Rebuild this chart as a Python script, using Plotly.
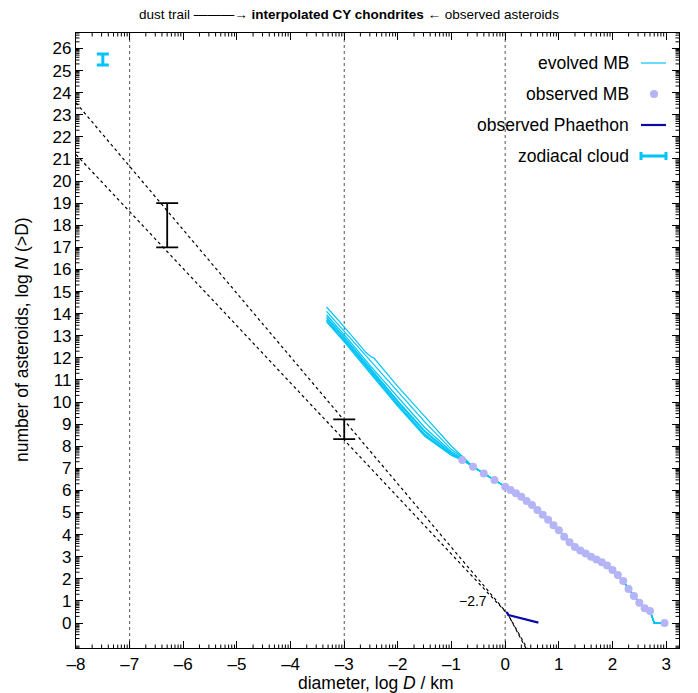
import math
import plotly.graph_objects as go

# ---------------- data ----------------
# observed main-belt cumulative distribution (log D [km], log N(>D))
mb_x = [-0.8, -0.6, -0.4, -0.2, 0.0, 0.1, 0.2, 0.3, 0.4, 0.5, 0.6, 0.7, 0.8, 0.9, 1.0,
        1.1, 1.2, 1.3, 1.4, 1.5, 1.6, 1.7, 1.8, 1.9, 2.0, 2.1, 2.2, 2.3, 2.4, 2.5, 2.6,
        2.7, 2.97]
mb_y = [7.38, 7.07, 6.77, 6.47, 6.17, 6.02, 5.87, 5.72, 5.52, 5.34, 5.12, 4.90, 4.67,
        4.42, 4.20, 3.90, 3.66, 3.44, 3.28, 3.15, 3.00, 2.88, 2.75, 2.60, 2.40, 2.17,
        1.90, 1.54, 1.22, 0.92, 0.67, 0.54, 0.0]

# evolved main-belt model runs (head parts differ, tail common)
evo_head_x = [-3.33, -3.0, -2.5, -2.0, -1.5, -1.0, -0.8]
evo_head_y = [
    [14.10, 13.20, 11.80, 10.45, 9.10, 7.85, 7.50],
    [13.95, 13.05, 11.60, 10.20, 8.85, 7.75, 7.45],
    [13.85, 12.95, 11.50, 10.05, 8.70, 7.70, 7.42],
    [13.80, 12.90, 11.45, 10.00, 8.65, 7.65, 7.40],
    [13.72, 12.82, 11.38, 9.92, 8.55, 7.62, 7.39],
    [13.68, 12.78, 11.32, 9.86, 8.50, 7.60, 7.38],
    [13.63, 12.72, 11.25, 9.80, 8.45, 7.58, 7.38],
]
evo_top_x = [-3.33, -3.2, -3.0, -2.6, -2.5, -2.45, -2.0, -1.5, -1.0, -0.8]
evo_top_y = [14.30, 13.95, 13.40, 12.25, 12.05, 12.00, 10.70, 9.35, 8.00, 7.55]
evo_tail_x = [-0.6, -0.4, -0.2, 0.0, 0.2, 0.4, 0.6, 0.8, 1.0, 1.2, 1.4, 1.6, 1.8, 2.0,
              2.2, 2.4, 2.6, 2.7, 2.78, 2.97]
evo_tail_y = [7.07, 6.77, 6.47, 6.17, 5.87, 5.52, 5.12, 4.67, 4.20, 3.66, 3.28, 3.00,
              2.75, 2.40, 1.90, 1.22, 0.67, 0.54, 0.0, 0.0]

# observed Phaethon
ph_x = [0.03, 0.06, 0.62]
ph_y = [0.50, 0.36, 0.02]

# power-law extrapolations (dotted)
ext1_x = [-8.0, 0.05, 0.42]
ext1_y = [23.54, 0.40, -1.2]
ext2_x = [-8.0, 0.05, 0.40]
ext2_y = [21.20, 0.40, -1.2]
slope_label = "\u22122.7"
slope_label_pos = (-0.6, 1.0)

# constraints with error bars
dust_x = [-6.3, -3.0]
dust_y = [18.0, 8.77]
dust_err = [1.0, 0.45]
zod_x = [-7.5]
zod_y = [25.5]
zod_err = [0.25]

vlines = [-7, -3, 0]

x_ticks = list(range(-8, 4))
y_ticks = list(range(0, 27))

# ---------------- styles ----------------
CYAN = "#00c4f8"
LAV = "#b4b4f6"
DBLUE = "#0a0aa8"
FONT = "Liberation Sans, Arial, sans-serif"

X_RANGE = [-8, 3.24]
Y_RANGE = [-1.13, 26.7]

# layout geometry (pixels)
W, H = 698, 693
L, R, T, B = 76, 679, 33, 648

fig = go.Figure()

# minor (log-like) ticks, gnuplot style, drawn as line segments
x_minor = [n + math.log10(k) for n in range(-9, 4) for k in range(2, 10)]
x_minor = [v for v in x_minor if X_RANGE[0] < v < X_RANGE[1]]
y_minor = [n + math.log10(k) for n in range(-2, 27) for k in range(2, 10)]
y_minor = [v for v in y_minor if Y_RANGE[0] < v < Y_RANGE[1]]
tick_dy = 3.5 * (Y_RANGE[1] - Y_RANGE[0]) / (B - T)
tick_dx = 3.5 * (X_RANGE[1] - X_RANGE[0]) / (R - L)
mx, my = [], []
for v in x_minor:
    mx += [v, v, None, v, v, None]
    my += [Y_RANGE[0], Y_RANGE[0] + tick_dy, None, Y_RANGE[1], Y_RANGE[1] - tick_dy, None]
for v in y_minor:
    mx += [X_RANGE[0], X_RANGE[0] + tick_dx, None, X_RANGE[1], X_RANGE[1] - tick_dx, None]
    my += [v, v, None, v, v, None]
fig.add_trace(go.Scatter(x=mx, y=my, mode="lines", line=dict(color="black", width=1),
                         showlegend=False, hoverinfo="skip"))

for xs, ys in [(ext1_x, ext1_y), (ext2_x, ext2_y)]:
    fig.add_trace(go.Scatter(x=xs, y=ys, mode="lines",
                             line=dict(color="black", width=1.2, dash="dot"),
                             showlegend=False, hoverinfo="skip"))

fig.add_trace(go.Scatter(x=evo_top_x + evo_tail_x, y=evo_top_y + evo_tail_y, mode="lines",
                         line=dict(color=CYAN, width=1.2), showlegend=False))
for hy in evo_head_y:
    fig.add_trace(go.Scatter(x=evo_head_x + evo_tail_x, y=hy + evo_tail_y, mode="lines",
                             line=dict(color=CYAN, width=1.2), showlegend=False))

fig.add_trace(go.Scatter(x=mb_x, y=mb_y, mode="markers",
                         marker=dict(color=LAV, size=8), showlegend=False))

fig.add_trace(go.Scatter(x=ph_x, y=ph_y, mode="lines",
                         line=dict(color=DBLUE, width=2.2), showlegend=False))

fig.add_trace(go.Scatter(x=dust_x, y=dust_y, mode="markers",
                         marker=dict(color="rgba(0,0,0,0)", size=1),
                         error_y=dict(type="data", array=dust_err, color="black",
                                      thickness=1.8, width=11),
                         showlegend=False))
fig.add_trace(go.Scatter(x=zod_x, y=zod_y, mode="markers",
                         marker=dict(color="rgba(0,0,0,0)", size=1),
                         error_y=dict(type="data", array=zod_err, color=CYAN,
                                      thickness=3, width=6),
                         showlegend=False))


def px(xp):
    return (xp - L) / (R - L)


def py(yp):
    return (B - yp) / (B - T)


shapes = []
for v in vlines:
    shapes.append(dict(type="line", xref="x", yref="paper", x0=v, x1=v, y0=0, y1=1,
                       line=dict(color="#555", width=1, dash="dot"), layer="below"))

annotations = []
annotations.append(dict(x=slope_label_pos[0], y=slope_label_pos[1], xref="x", yref="y",
                        text=slope_label, showarrow=False,
                        font=dict(size=14, color="black", family=FONT)))

# legend (drawn manually, gnuplot style)
leg_rows = [63, 94, 125, 156]
leg_text = ["evolved MB", "observed MB", "observed Phaethon", "zodiacal cloud"]
for t, yy in zip(leg_text, leg_rows):
    annotations.append(dict(x=px(631), y=py(yy), xref="paper", yref="paper", text=t,
                            showarrow=False, xanchor="right", yanchor="middle",
                            font=dict(size=17.5, color="black", family=FONT)))
shapes.append(dict(type="line", xref="paper", yref="paper", x0=px(641), x1=px(666),
                   y0=py(63), y1=py(63), line=dict(color=CYAN, width=1.2)))
shapes.append(dict(type="circle", xref="paper", yref="paper", x0=px(650), x1=px(658),
                   y0=py(98), y1=py(90), line=dict(width=0), fillcolor=LAV))
shapes.append(dict(type="line", xref="paper", yref="paper", x0=px(641), x1=px(666),
                   y0=py(125), y1=py(125), line=dict(color=DBLUE, width=2.2)))
shapes.append(dict(type="line", xref="paper", yref="paper", x0=px(641), x1=px(666),
                   y0=py(156), y1=py(156), line=dict(color=CYAN, width=3)))
for xe in (641, 666):
    shapes.append(dict(type="line", xref="paper", yref="paper", x0=px(xe), x1=px(xe),
                       y0=py(152), y1=py(160), line=dict(color=CYAN, width=3)))

# top caption
annotations.append(dict(x=px(349), y=py(15), xref="paper", yref="paper",
                        text="dust trail \u2014\u2014\u2014\u2192 <b>interpolated CY chondrites</b> \u2190 observed asteroids",
                        showarrow=False, yanchor="middle",
                        font=dict(size=13.5, color="black", family=FONT)))
# axis titles
annotations.append(dict(x=px(376), y=py(683), xref="paper", yref="paper",
                        text="diameter, log <i>D</i> / km", showarrow=False,
                        yanchor="middle", font=dict(size=17.5, color="black", family=FONT)))
annotations.append(dict(x=px(22), y=py(340), xref="paper", yref="paper",
                        text="number of asteroids, log <i>N</i> (>D)", showarrow=False,
                        textangle=-90, xanchor="center", yanchor="middle",
                        font=dict(size=17.5, color="black", family=FONT)))

axis_common = dict(showline=True, linecolor="black", linewidth=1.2, mirror="ticks",
                   ticks="inside", ticklen=7, tickwidth=1, tickcolor="black",
                   showgrid=False, zeroline=False,
                   tickfont=dict(size=17, color="black", family=FONT))

fig.update_layout(
    width=W, height=H,
    margin=dict(l=L, r=W - R, t=T, b=H - B),
    paper_bgcolor="white", plot_bgcolor="white",
    showlegend=False,
    shapes=shapes, annotations=annotations,
    xaxis=dict(range=X_RANGE, tickmode="array", tickvals=x_ticks,
               ticktext=[str(v).replace("-", "\u2013") for v in x_ticks],
               **axis_common),
    yaxis=dict(range=Y_RANGE, tickmode="array", tickvals=y_ticks,
               ticktext=[str(v) for v in y_ticks],
               **axis_common),
)

fig.write_html("out.html")
